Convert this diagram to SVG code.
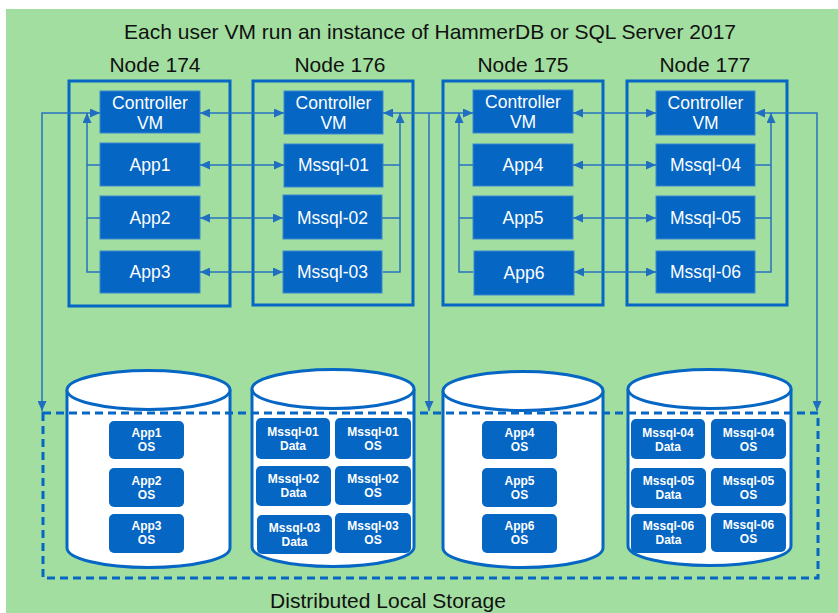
<svg xmlns="http://www.w3.org/2000/svg" width="838" height="613" viewBox="0 0 838 613">
<defs>
<style>
.bg{fill:#A1DE9F}
.node{fill:none;stroke:#0566C4;stroke-width:3}
.vm{fill:#0566C4;stroke:#3C88D0;stroke-width:1}
.vt{font-family:"Liberation Sans",Arial,sans-serif;font-size:17.5px;fill:#fff;text-anchor:middle}
.lbl{font-family:"Liberation Sans",Arial,sans-serif;font-size:21px;fill:#111;text-anchor:middle}
.cyl{fill:#fff;stroke:#0566C4;stroke-width:3}
.disk{fill:#0566C4}
.dt{font-family:"Liberation Sans",Arial,sans-serif;font-size:12px;font-weight:bold;fill:#fff;text-anchor:middle}
.c{fill:none;stroke:#2673C2;stroke-width:1.5}
.dash{fill:none;stroke:#0566C4;stroke-width:3;stroke-dasharray:8 5}
</style>
<marker id="ah" viewBox="0 0 10 9" refX="10" refY="4.5" markerWidth="10" markerHeight="9" markerUnits="userSpaceOnUse" orient="auto-start-reverse">
<path d="M0,0 L10,4.5 L0,9 z" fill="#1F6EC2"/>
</marker>
</defs>
<rect x="6" y="9" width="832" height="604" class="bg"/>
<text x="430" y="39" class="lbl">Each user VM run an instance of HammerDB or SQL Server 2017</text>

<g id="node174">
<text x="155" y="72" class="lbl">Node 174</text>
<rect x="69" y="81" width="161" height="225" class="node"/>
<g id="ctrl174"><rect x="100" y="91" width="100" height="42" class="vm"/><text x="150" y="109" class="vt">Controller</text><text x="150" y="129" class="vt">VM</text></g>
<g id="app1"><rect x="100" y="143" width="100" height="43" class="vm"/><text x="150" y="171" class="vt">App1</text></g>
<g id="app2"><rect x="100" y="196" width="100" height="43" class="vm"/><text x="150" y="224" class="vt">App2</text></g>
<g id="app3"><rect x="100" y="251" width="100" height="42" class="vm"/><text x="150" y="278" class="vt">App3</text></g>
</g>

<g id="node176">
<text x="340" y="72" class="lbl">Node 176</text>
<rect x="253" y="81" width="160" height="224" class="node"/>
<g id="ctrl176"><rect x="284" y="91" width="99" height="43" class="vm"/><text x="333.5" y="109" class="vt">Controller</text><text x="333.5" y="129" class="vt">VM</text></g>
<g id="mssql01"><rect x="284" y="144" width="99" height="43" class="vm"/><text x="333.5" y="171" class="vt">Mssql-01</text></g>
<g id="mssql02"><rect x="283" y="195" width="99" height="44" class="vm"/><text x="332.5" y="224" class="vt">Mssql-02</text></g>
<g id="mssql03"><rect x="283" y="251" width="99" height="42" class="vm"/><text x="332.5" y="278" class="vt">Mssql-03</text></g>
</g>

<g id="node175">
<text x="523" y="72" class="lbl">Node 175</text>
<rect x="443" y="81" width="160" height="224" class="node"/>
<g id="ctrl175"><rect x="473" y="90" width="100" height="43" class="vm"/><text x="523" y="108" class="vt">Controller</text><text x="523" y="128" class="vt">VM</text></g>
<g id="app4"><rect x="473" y="144" width="100" height="42" class="vm"/><text x="523" y="171" class="vt">App4</text></g>
<g id="app5"><rect x="473" y="196" width="100" height="43" class="vm"/><text x="523" y="224" class="vt">App5</text></g>
<g id="app6"><rect x="474" y="251" width="100" height="44" class="vm"/><text x="524" y="279" class="vt">App6</text></g>
</g>

<g id="node177">
<text x="705" y="72" class="lbl">Node 177</text>
<rect x="627" y="81" width="160" height="224" class="node"/>
<g id="ctrl177"><rect x="656" y="91" width="99" height="44" class="vm"/><text x="705.5" y="109" class="vt">Controller</text><text x="705.5" y="129" class="vt">VM</text></g>
<g id="mssql04"><rect x="656" y="144" width="99" height="42" class="vm"/><text x="705.5" y="171" class="vt">Mssql-04</text></g>
<g id="mssql05"><rect x="656" y="196" width="99" height="43" class="vm"/><text x="705.5" y="224" class="vt">Mssql-05</text></g>
<g id="mssql06"><rect x="656" y="251" width="99" height="42" class="vm"/><text x="705.5" y="278" class="vt">Mssql-06</text></g>
</g>

<g id="storage1">
<path d="M67,390 V548 A81.5,19.5 0 0 0 230,548 V390" class="cyl"/>
<ellipse cx="148.5" cy="390" rx="81.5" ry="19.5" class="cyl"/>
<rect x="109" y="421" width="75" height="38" rx="5" class="disk"/><text x="146.5" y="437" class="dt">App1</text><text x="146.5" y="451" class="dt">OS</text>
<rect x="109" y="468" width="75" height="39" rx="5" class="disk"/><text x="146.5" y="485" class="dt">App2</text><text x="146.5" y="499" class="dt">OS</text>
<rect x="109" y="514" width="75" height="39" rx="5" class="disk"/><text x="146.5" y="530" class="dt">App3</text><text x="146.5" y="544" class="dt">OS</text>
</g>

<g id="storage2">
<path d="M252,389 V547 A81,19.5 0 0 0 414,547 V389" class="cyl"/>
<ellipse cx="333" cy="389" rx="81" ry="19.5" class="cyl"/>
<rect x="256" y="418" width="74" height="41" rx="5" class="disk"/><text x="293" y="436" class="dt">Mssql-01</text><text x="293" y="450" class="dt">Data</text>
<rect x="335" y="418" width="76" height="41" rx="5" class="disk"/><text x="373" y="436" class="dt">Mssql-01</text><text x="373" y="450" class="dt">OS</text>
<rect x="256" y="466" width="75" height="40" rx="5" class="disk"/><text x="293.5" y="483" class="dt">Mssql-02</text><text x="293.5" y="497" class="dt">Data</text>
<rect x="335" y="466" width="76" height="39" rx="5" class="disk"/><text x="373" y="483" class="dt">Mssql-02</text><text x="373" y="497" class="dt">OS</text>
<rect x="257" y="515" width="75" height="39" rx="5" class="disk"/><text x="294.5" y="532" class="dt">Mssql-03</text><text x="294.5" y="546" class="dt">Data</text>
<rect x="335" y="513" width="76" height="40" rx="5" class="disk"/><text x="373" y="530" class="dt">Mssql-03</text><text x="373" y="544" class="dt">OS</text>
</g>

<g id="storage3">
<path d="M443,391 V548 A80,19.5 0 0 0 603,548 V391" class="cyl"/>
<ellipse cx="523" cy="391" rx="80" ry="19.5" class="cyl"/>
<rect x="482" y="421" width="75" height="38" rx="5" class="disk"/><text x="519.5" y="437" class="dt">App4</text><text x="519.5" y="451" class="dt">OS</text>
<rect x="482" y="468" width="75" height="39" rx="5" class="disk"/><text x="519.5" y="485" class="dt">App5</text><text x="519.5" y="499" class="dt">OS</text>
<rect x="482" y="514" width="75" height="39" rx="5" class="disk"/><text x="519.5" y="530" class="dt">App6</text><text x="519.5" y="544" class="dt">OS</text>
</g>

<g id="storage4">
<path d="M628,389 V546 A81.5,19.5 0 0 0 791,546 V389" class="cyl"/>
<ellipse cx="709.5" cy="389" rx="81.5" ry="19.5" class="cyl"/>
<rect x="631" y="419" width="74" height="40" rx="5" class="disk"/><text x="668" y="437" class="dt">Mssql-04</text><text x="668" y="451" class="dt">Data</text>
<rect x="711" y="419" width="75" height="40" rx="5" class="disk"/><text x="748.5" y="437" class="dt">Mssql-04</text><text x="748.5" y="451" class="dt">OS</text>
<rect x="631" y="468" width="75" height="40" rx="5" class="disk"/><text x="668.5" y="485" class="dt">Mssql-05</text><text x="668.5" y="499" class="dt">Data</text>
<rect x="711" y="468" width="75" height="38" rx="5" class="disk"/><text x="748.5" y="485" class="dt">Mssql-05</text><text x="748.5" y="499" class="dt">OS</text>
<rect x="631" y="514" width="75" height="39" rx="5" class="disk"/><text x="668.5" y="530" class="dt">Mssql-06</text><text x="668.5" y="544" class="dt">Data</text>
<rect x="711" y="513" width="75" height="39" rx="5" class="disk"/><text x="748.5" y="529" class="dt">Mssql-06</text><text x="748.5" y="543" class="dt">OS</text>
</g>

<g id="dls">
<rect x="43" y="413" width="775" height="165" class="dash"/>
<text x="388" y="608" class="lbl">Distributed Local Storage</text>
</g>

<g id="connectors">
<line x1="200" y1="113" x2="284" y2="113" class="c" marker-start="url(#ah)" marker-end="url(#ah)"/>
<line x1="200" y1="165" x2="284" y2="165" class="c" marker-start="url(#ah)" marker-end="url(#ah)"/>
<line x1="200" y1="218" x2="283" y2="218" class="c" marker-start="url(#ah)" marker-end="url(#ah)"/>
<line x1="200" y1="272" x2="283" y2="272" class="c" marker-start="url(#ah)" marker-end="url(#ah)"/>
<line x1="383" y1="113" x2="473" y2="113" class="c" marker-start="url(#ah)" marker-end="url(#ah)"/>
<line x1="573" y1="113" x2="656" y2="113" class="c" marker-start="url(#ah)" marker-end="url(#ah)"/>
<line x1="573" y1="165" x2="656" y2="165" class="c" marker-start="url(#ah)" marker-end="url(#ah)"/>
<line x1="573" y1="218" x2="656" y2="218" class="c" marker-start="url(#ah)" marker-end="url(#ah)"/>
<line x1="574" y1="272" x2="656" y2="272" class="c" marker-start="url(#ah)" marker-end="url(#ah)"/>
<path d="M100,272 H87 V113" class="c" marker-end="url(#ah)"/>
<path d="M100,165 H87 M100,218 H87" class="c"/>
<path d="M383,272 H400 V113" class="c" marker-end="url(#ah)"/>
<path d="M383,165 H400 M382,218 H400" class="c"/>
<path d="M473,272 H459 V113" class="c" marker-end="url(#ah)"/>
<path d="M473,165 H459 M473,218 H459" class="c"/>
<path d="M755,272 H771 V113" class="c" marker-end="url(#ah)"/>
<path d="M755,165 H771 M755,218 H771" class="c"/>
<path d="M42,411 V113 H100" class="c" marker-start="url(#ah)" marker-end="url(#ah)"/>
<path d="M429,113 V411" class="c" marker-end="url(#ah)"/>
<path d="M817,411 V113 H755" class="c" marker-start="url(#ah)" marker-end="url(#ah)"/>
</g>
</svg>
